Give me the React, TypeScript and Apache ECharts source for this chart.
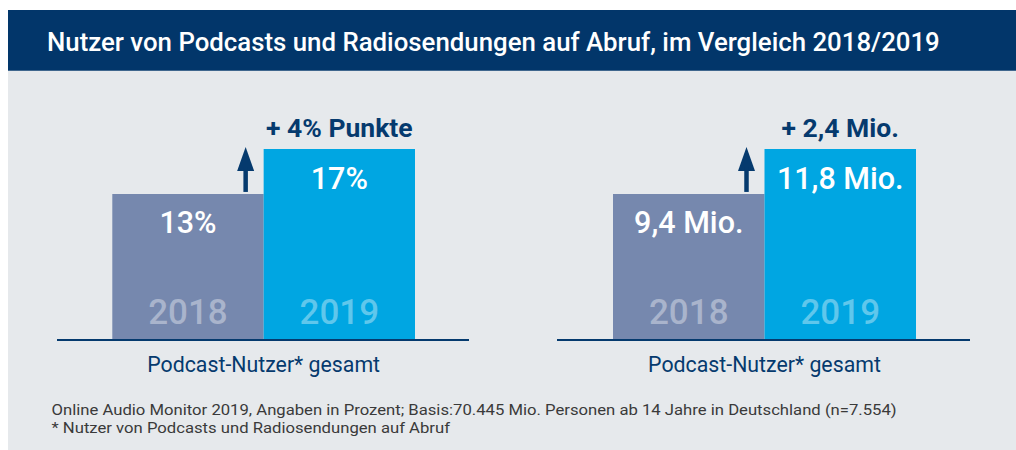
import React, { useEffect, useRef } from "react";
import * as echarts from "echarts";

const TITLE = "Nutzer von Podcasts und Radiosendungen auf Abruf, im Vergleich 2018/2019";
const CATEGORIES = ["2018", "2019"];
const SHARE_VALUES = [13, 17];
const USER_VALUES = [9.4, 11.8];
const GROUP_LABELS = ["Podcast-Nutzer* gesamt", "Podcast-Nutzer* gesamt"];
const FOOTNOTES = [
  "Online Audio Monitor 2019, Angaben in Prozent; Basis:70.445 Mio. Personen ab 14 Jahre in Deutschland (n=7.554)",
  "* Nutzer von Podcasts und Radiosendungen auf Abruf",
];
// The reference draws both 2018 bars at the same height; a non-zero minimum on the
// right panel's value axis reproduces that. Set to 0 for bar heights true to the numbers.
const USER_AXIS_MIN = 1.6;

const NAVY = "#053a6e";
const TITLE_BG = "#02366a";
const PANEL_BG = "#e6e9ec";
const BAR_COLORS = ["#7688ae", "#00a6e2"];
const FONT = "Roboto";

const fmtShare = (v: number) => `${String(v).replace(".", ",")}%`;
const fmtUsers = (v: number) => `${String(v).replace(".", ",")} Mio.`;
const fmtShareDelta = (v: number) => `+ ${String(Math.round(v * 10) / 10).replace(".", ",")}% Punkte`;
const fmtUsersDelta = (v: number) => `+ ${String(Math.round(v * 10) / 10).replace(".", ",")} Mio.`;

export default function App() {
  const ref = useRef<HTMLDivElement>(null);
  useEffect(() => {
    if (!ref.current) return;
    const chart = echarts.init(ref.current, null, { renderer: "svg" });
    const W = 1016;
    const H = 450;
    const grids = [
      { left: 112.3, width: 302.7, top: 149, height: 191 },
      { left: 613, width: 303, top: 149, height: 191 },
    ];
    const datasets = [SHARE_VALUES, USER_VALUES];
    const formatters = [fmtShare, fmtUsers];
    const option: any = {
      animation: false,
      backgroundColor: "#ffffff",
      grid: grids.map((g) => ({ ...g, containLabel: false })),
      xAxis: grids.map((_, i) => ({
        type: "category",
        gridIndex: i,
        data: CATEGORIES,
        z: 10,
        axisLine: { show: false },
        axisTick: { show: false },
        splitLine: { show: false },
        axisLabel: {
          inside: true,
          margin: 10,
          color: "rgba(255,255,255,0.38)",
          fontSize: 35,
          fontWeight: 500,
          fontFamily: FONT,
        },
        name: GROUP_LABELS[i],
        nameLocation: "middle",
        nameGap: 14,
        nameTextStyle: { color: NAVY, fontSize: 21.3, fontFamily: FONT },
      })),
      yAxis: [
        { type: "value", gridIndex: 0, min: 0, max: SHARE_VALUES[1], show: false },
        { type: "value", gridIndex: 1, min: USER_AXIS_MIN, max: USER_VALUES[1], show: false },
      ],
      series: datasets.map((vals, i) => ({
        type: "bar",
        xAxisIndex: i,
        yAxisIndex: i,
        barWidth: "100%",
        barCategoryGap: "0%",
        data: vals.map((v, j) => ({ value: v, itemStyle: { color: BAR_COLORS[j] } })),
        label: {
          show: true,
          position: "insideTop",
          distance: 13.5,
          color: "#ffffff",
          fontSize: 30.5,
          fontWeight: 500,
          fontFamily: FONT,
          formatter: (p: any) => formatters[i](p.value),
        },
      })),
    };
    chart.setOption(option);

    const graphics: any[] = [
      { type: "rect", z: -10, shape: { x: 8, y: 70.7, width: W - 8, height: H - 70.7 }, style: { fill: PANEL_BG }, silent: true },
      { type: "rect", z: -10, shape: { x: 8, y: 10, width: W - 8, height: 60.7 }, style: { fill: TITLE_BG }, silent: true },
      {
        type: "text",
        x: 47,
        y: 41.5,
        style: { text: TITLE, fill: "#ffffff", font: `500 25.8px ${FONT}`, textVerticalAlign: "middle" },
      },
      ...FOOTNOTES.map((t, k) => ({
        type: "text",
        x: 51.5,
        y: 410 + k * 17.4,
        scaleX: 1.12,
        style: {
          text: t,
          fill: "#3a3a3a",
          font: `14.9px ${FONT}`,
          textVerticalAlign: "middle",
        },
      })),
    ];

    const deltaFmt = [fmtShareDelta, fmtUsersDelta];
    const lineExt = [[57, 469], [557, 970]];
    datasets.forEach((vals, i) => {
      const finder = { xAxisIndex: i, yAxisIndex: i };
      const p0 = chart.convertToPixel(finder, [0, vals[0]]) as number[];
      const p1 = chart.convertToPixel(finder, [1, vals[1]]) as number[];
      const base = chart.convertToPixel(finder, [0, i === 0 ? 0 : USER_AXIS_MIN]) as number[];
      const boundary = (p0[0] + p1[0]) / 2;
      const ax = boundary - 18;
      const tipY = p1[1] - 2;
      const baseY = p0[1] - 2;
      graphics.push({
        type: "line",
        z: 5,
        shape: { x1: lineExt[i][0], y1: base[1], x2: lineExt[i][1], y2: base[1] },
        style: { stroke: NAVY, lineWidth: 2 },
      });
      graphics.push({
        type: "polygon",
        z: 5,
        shape: { points: [[ax - 8.5, tipY + 24], [ax, tipY], [ax + 8.5, tipY + 24]] },
        style: { fill: NAVY },
      });
      graphics.push({
        type: "rect",
        z: 5,
        shape: { x: ax - 2.25, y: tipY + 20, width: 4.5, height: baseY - tipY - 20 },
        style: { fill: NAVY },
      });
      graphics.push({
        type: "text",
        z: 5,
        x: p1[0],
        y: p1[1] - 22,
        style: {
          text: deltaFmt[i](vals[1] - vals[0]),
          fill: NAVY,
          font: `bold 26.5px ${FONT}`,
          textAlign: "center",
          textVerticalAlign: "middle",
        },
      });
    });
    chart.setOption({ graphic: { elements: graphics } });
    return () => chart.dispose();
  }, []);
  return (
    <div
      ref={ref}
      style={{ position: "fixed", left: 0, top: 0, width: 1016, height: 450 }}
    />
  );
}
